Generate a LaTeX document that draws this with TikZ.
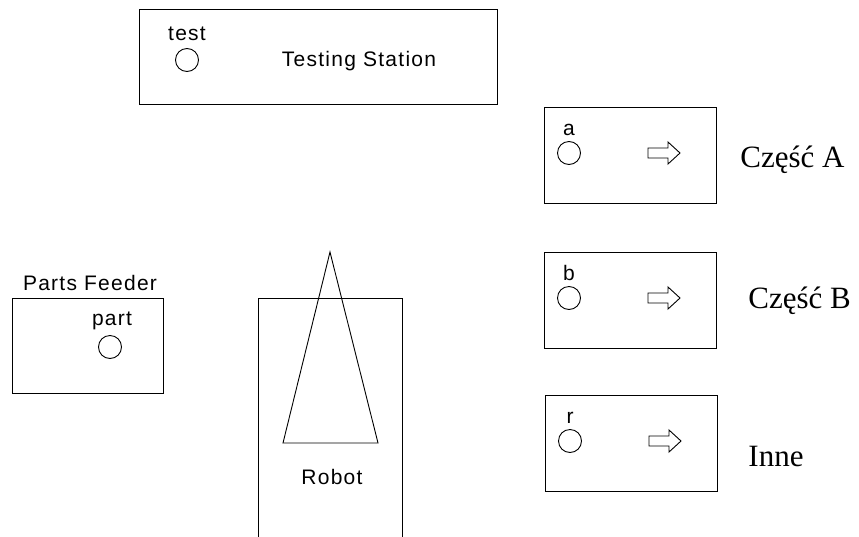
\documentclass[tikz,border=0pt]{standalone}
\usepackage{fontspec}
\setmainfont{Liberation Serif}
\setsansfont{Liberation Sans}[LetterSpace=6]
\begin{document}
\begin{tikzpicture}[x=1pt,y=-1pt,line width=0.9pt,
  station/.style={draw,rectangle,inner sep=0pt,anchor=north west},
  port/.style={draw,circle,minimum size=23pt,inner sep=0pt},
  lbl/.style={font=\sffamily\fontsize{21}{21}\selectfont,inner sep=0pt,anchor=base},
  outlbl/.style={font=\fontsize{31}{31}\selectfont,inner sep=0pt,anchor=base west},
  fwd/.style={draw,line join=miter}]
\clip (0,0) rectangle (859,536);
\useasboundingbox (0,0) rectangle (859,536);

% testing station
\node[station,minimum width=358pt,minimum height=95pt] (testbox) at (139,9) {};
\node[port] (test) at (187,60) {};
\node[lbl] (testlbl) at (187,40) {test};
\node[lbl] (teststation) at (359,66) {Testing Station};

% output bins with their ports and direction arrows
\foreach \nm/\lt/\top in {a/544/107, b/544/252, r/545/395}{
  \node[station,minimum width=172pt,minimum height=96pt] (bin\nm) at (\lt,\top) {};
  \node[port] (\nm) at (\lt+25,\top+46) {};
  \node[lbl] (\nm lbl) at (\lt+25,\top+28) {\nm};
  \coordinate (arr\nm) at (\lt+104,\top+46);
  \draw[fwd] (arr\nm) ++(0,-5) -- ++(20,0) -- ++(0,-6) -- ++(12,11) -- ++(-12,11)
     -- ++(0,-6) -- ++(-20,0) -- cycle;
}
\node[outlbl] (partA) at (740,167) {Część A};
\node[outlbl] (partB) at (748,308) {Część B};
\node[outlbl] (other) at (748,466) {Inne};

% parts feeder
\node[lbl] (feederlbl) at (90,290) {Parts Feeder};
\node[station,minimum width=151pt,minimum height=95pt] (feeder) at (12,298) {};
\node[port] (part) at (110,347) {};
\node[lbl] (partlbl) at (112,325) {part};

% robot with its arm
\node[station,minimum width=144pt,minimum height=300pt] (robot) at (258,298) {};
\coordinate (armtip) at (330,252);
\coordinate (armL) at (283,443);
\coordinate (armR) at (378,443);
\draw (armtip) -- (armL) -- (armR) -- cycle;
\node[lbl] (robotlbl) at (332,484) {Robot};
\end{tikzpicture}
\end{document}
